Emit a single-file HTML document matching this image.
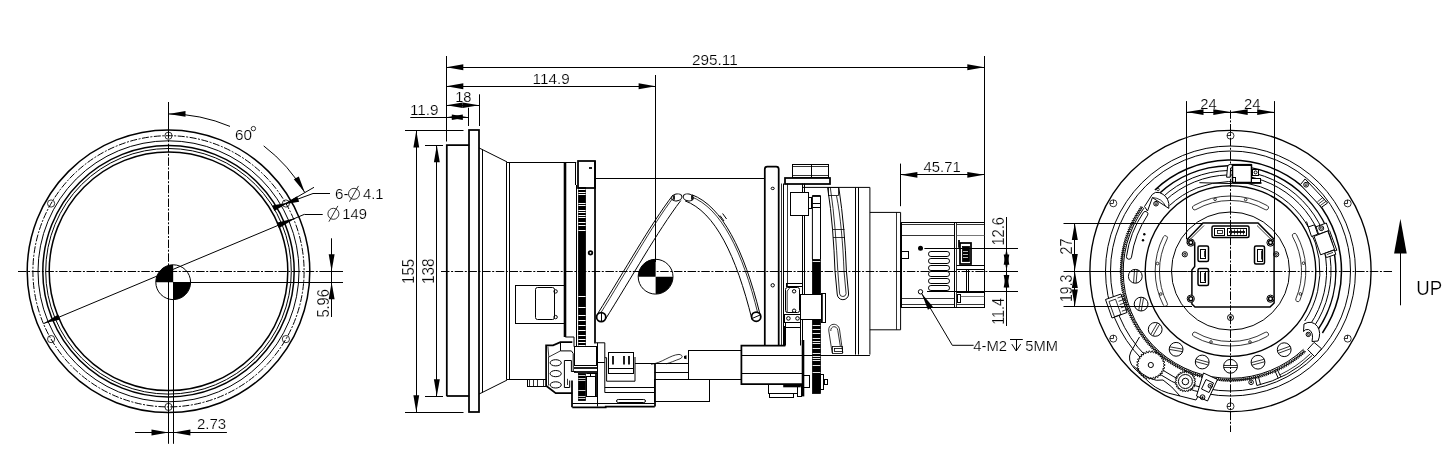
<!DOCTYPE html>
<html><head><meta charset="utf-8"><title>Lens drawing</title>
<style>
html,body{margin:0;padding:0;background:#fff}
svg{display:block;will-change:transform}
path,rect,circle,ellipse{fill:none;stroke:#000;stroke-width:1}
.n{stroke-width:1}
.th{stroke-width:.8}
.k{stroke-width:1.75}
.k2{stroke-width:2.6}
.tt{stroke-width:.95;stroke-linejoin:round}
.o{stroke-width:1.5}
.o2{stroke-width:1.35}
.cl{stroke-width:1;stroke-dasharray:8.5 1.6 2 1.6}
.cl2{stroke-width:1;stroke-dasharray:7 1.5 2 1.5}
.a{fill:#000;stroke:none}
.w{fill:#fff}
.b{fill:#000}
.g{stroke:#555;stroke-width:.8}
text{font-family:"Liberation Sans",sans-serif;fill:#000;stroke:#fff;stroke-width:.2px;paint-order:fill stroke}
</style></head>
<body>
<svg width="1454" height="459" viewBox="0 0 1454 459">
<g id="left-view">
<circle class="o" cx="168.5" cy="271.3" r="141.3"/>
<circle class="cl2" cx="168.5" cy="271.3" r="135.6"/>
<circle class="n" cx="168.5" cy="271.3" r="130.5"/>
<circle class="o" cx="168.5" cy="271.3" r="125.7"/>
<circle class="n" cx="168.5" cy="271.3" r="122.8"/>
<circle class="o" cx="168.5" cy="271.3" r="119.3"/>
<circle class="th" cx="168.5" cy="135.7" r="3.6"/>
<circle class="th" cx="285.9" cy="203.5" r="3.6"/>
<circle class="th" cx="285.9" cy="339.1" r="3.6"/>
<circle class="th" cx="168.5" cy="406.9" r="3.6"/>
<circle class="th" cx="51.1" cy="339.1" r="3.6"/>
<circle class="th" cx="51.1" cy="203.5" r="3.6"/>
<path class="cl" d="M18 271.5L343 271.5"/>
<path class="n" d="M322.7 271.5L343 271.5"/>
<path class="n" d="M168.5 102L168.5 130"/>
<path class="cl" d="M168.5 130L168.5 264"/>
<path class="n" d="M168.5 264L168.5 443.8"/>
<path class="n" d="M173.5 282L173.5 443.8"/>
<path class="n" d="M173 282.5L343 282.5"/>
<path class="n" d="M43.6 323.6L304.5 214.3"/>
<path class="n" d="M304.5 214.5L322.7 214.5"/>
<path class="a" d="M295.8 218L278.9 228.3L276.6 222.7Z"/>
<path class="a" d="M43.6 323.6L58.2 314.5L60.4 319.6Z"/>
<circle class="n" cx="173.2" cy="282.2" r="17.4"/>
<path class="a" d="M173.2 282.2L155.8 282.2A17.4 17.4 0 0 1 173.2 264.8Z"/>
<path class="a" d="M173.2 282.2L190.6 282.2A17.4 17.4 0 0 1 173.2 299.6Z"/>
<path class="n" d="M168.5 264L168.5 300"/>
<path class="n" d="M288 202.3L314 187.3"/>
<path class="n" d="M168.5 113.9A157.4 157.4 0 0 1 230 126.4"/>
<path class="n" d="M263.7 145.9A157.4 157.4 0 0 1 304.8 192.6"/>
<path class="a" d="M168.5 113.9L185.5 111L185.5 116.8Z"/>
<path class="a" d="M304.8 192.6L293.8 179.3L298.8 176.4Z"/>
<text class="t" x="234.9" y="140" font-size="15.4" textLength="17" lengthAdjust="spacingAndGlyphs">60</text>
<circle class="th" cx="253.4" cy="128.6" r="2.2"/>
<path class="n" d="M330 193.5L313 193.5"/>
<path class="n" d="M313 193.5L285.9 203.5"/>
<path class="a" d="M283.1 204.5L297.1 196.2L299.2 201.8Z"/>
<path class="a" d="M288.7 202.5L274.3 211L272.2 205.4Z"/>
<text class="t" x="335" y="198.7" font-size="15.4" textLength="13.5" lengthAdjust="spacingAndGlyphs">6-</text>
<circle class="th" cx="354" cy="193.8" r="5.5"/>
<path class="th" d="M349.5 201.7L358.5 185.9"/>
<text class="t" x="363" y="198.7" font-size="15.4" textLength="20.6" lengthAdjust="spacingAndGlyphs">4.1</text>
<circle class="th" cx="333.4" cy="213.8" r="5.5"/>
<path class="th" d="M328.9 221.7L337.9 205.9"/>
<text class="t" x="342.3" y="218.7" font-size="15.4" textLength="24.7" lengthAdjust="spacingAndGlyphs">149</text>
<path class="n" d="M331.5 238.3L331.5 317"/>
<path class="a" d="M331.6 271.3L328.7 254.3L334.6 254.3Z"/>
<path class="a" d="M331.6 282.2L334.6 299.2L328.7 299.2Z"/>
<text class="t" x="328.6" y="317.6" font-size="16.4" textLength="28.4" lengthAdjust="spacingAndGlyphs" transform="rotate(-90 328.6 317.6)">5.96</text>
<path class="n" d="M135 432.5L226.9 432.5"/>
<path class="a" d="M168.5 432.5L151.5 435.4L151.5 429.6Z"/>
<path class="a" d="M173.4 432.5L190.4 429.6L190.4 435.4Z"/>
<text class="t" x="197" y="429" font-size="15.4" textLength="29.2" lengthAdjust="spacingAndGlyphs">2.73</text>
</g>
<g id="side-view">
<path class="n" d="M446.5 56L446.5 141.5"/>
<path class="n" d="M984.5 56L984.5 222"/>
<path class="n" d="M446.3 67.5L984.3 67.5"/>
<path class="a" d="M446.3 67.3L463.3 64.3L463.3 70.2Z"/>
<path class="a" d="M984.3 67.3L967.3 70.2L967.3 64.3Z"/>
<text class="t" x="692" y="64.9" font-size="15.4" textLength="45.7" lengthAdjust="spacingAndGlyphs">295.11</text>
<path class="n" d="M655.5 75L655.5 262"/>
<path class="n" d="M446.3 86.5L655.6 86.5"/>
<path class="a" d="M446.3 86.3L463.3 83.3L463.3 89.2Z"/>
<path class="a" d="M655.6 86.3L638.6 89.2L638.6 83.3Z"/>
<text class="t" x="532.6" y="83.6" font-size="15.4" textLength="37.1" lengthAdjust="spacingAndGlyphs">114.9</text>
<path class="n" d="M479.5 94.3L479.5 126"/>
<path class="n" d="M446.3 105.5L479.1 105.5"/>
<path class="a" d="M446.3 105.2L462.7 102.4L462.7 108Z"/>
<path class="a" d="M479.1 105.2L462.7 108L462.7 102.4Z"/>
<text class="t" x="455.2" y="102" font-size="15.4" textLength="16.3" lengthAdjust="spacingAndGlyphs">18</text>
<path class="n" d="M468.5 107.7L468.5 126"/>
<path class="n" d="M410.3 117.5L468.3 117.5"/>
<path class="a" d="M446.3 117.3L462.8 114.5L462.8 120.1Z"/>
<path class="a" d="M468.3 117.3L451.8 120.1L451.8 114.5Z"/>
<text class="t" x="410" y="114.6" font-size="15.4" textLength="28.6" lengthAdjust="spacingAndGlyphs">11.9</text>
<path class="n" d="M405 130.5L463.5 130.5"/>
<path class="n" d="M405 412.5L463.5 412.5"/>
<path class="n" d="M416.5 130.5L416.5 412.2"/>
<path class="a" d="M416.3 130.5L419.2 147.5L413.4 147.5Z"/>
<path class="a" d="M416.3 412.2L413.4 395.2L419.2 395.2Z"/>
<path class="n" d="M425 145.5L443 145.5"/>
<path class="n" d="M425 396.5L443 396.5"/>
<path class="n" d="M436.5 145.2L436.5 396.3"/>
<path class="a" d="M436.8 145.2L439.8 162.2L433.9 162.2Z"/>
<path class="a" d="M436.8 396.3L433.9 379.3L439.8 379.3Z"/>
<text class="t" x="413.9" y="283.9" font-size="16.4" textLength="25" lengthAdjust="spacingAndGlyphs" transform="rotate(-90 413.9 283.9)">155</text>
<text class="t" x="434" y="284" font-size="16.4" textLength="25.6" lengthAdjust="spacingAndGlyphs" transform="rotate(-90 434 284)">138</text>
<path class="cl" d="M441 271.5L1018 271.5"/>
<path class="n" d="M996 271.5L1018 271.5"/>
<path class="k" d="M446.8 396.3L446.8 145.2L469.3 145.2"/>
<path class="k" d="M446.8 396L469.3 396"/>
<rect class="k" x="469" y="130" width="10" height="282"/>
<path class="n" d="M478.9 147.9L482 149.4L507 161.9"/>
<path class="n" d="M478.9 394.1L482 392.6L507 380.1"/>
<path class="n" d="M482.5 149.4L482.5 392.6"/>
<path class="n" d="M506.5 162.2L506.5 379.8"/>
<path class="n" d="M509.5 162.2L509.5 379.8"/>
<path class="n" d="M507 162.5L576.2 162.5"/>
<path class="n" d="M507 379.5L527.5 379.5"/>
<path class="k2" d="M565 162.2L565 337"/>
<path class="n" d="M575.5 162.2L575.5 185"/>
<path class="n" d="M576.5 185L576.5 346"/>
<rect class="k" x="578" y="161" width="17" height="27"/>
<path class="k" d="M589 168L592 168"/>
<path class="k" d="M595 161.1L595 343.4"/>
<rect class="b th" x="578.5" y="187.5" width="7" height="159"/>
<path d="M578.4 189.5L585.6 189.5" style="stroke:#fff;stroke-width:1.0"/>
<path d="M578.4 192.5L585.6 192.5" style="stroke:#fff;stroke-width:1.0"/>
<path d="M578.4 194.5L585.6 194.5" style="stroke:#fff;stroke-width:1.0"/>
<path d="M578.4 203.5L585.6 203.5" style="stroke:#fff;stroke-width:1.0"/>
<path d="M578.4 205.5L585.6 205.5" style="stroke:#fff;stroke-width:1.0"/>
<path d="M578.4 210.5L585.6 210.5" style="stroke:#fff;stroke-width:1.0"/>
<path d="M578.4 212.5L585.6 212.5" style="stroke:#fff;stroke-width:1.0"/>
<path d="M578.4 215.5L585.6 215.5" style="stroke:#fff;stroke-width:1.0"/>
<path d="M578.4 217.5L585.6 217.5" style="stroke:#fff;stroke-width:1.0"/>
<path d="M578.4 222.5L585.6 222.5" style="stroke:#fff;stroke-width:1.0"/>
<path d="M578.4 225.5L585.6 225.5" style="stroke:#fff;stroke-width:1.0"/>
<path d="M578.4 230.5L585.6 230.5" style="stroke:#fff;stroke-width:1.0"/>
<path d="M578.4 296.5L585.6 296.5" style="stroke:#fff;stroke-width:1.0"/>
<path d="M578.4 307.5L585.6 307.5" style="stroke:#fff;stroke-width:1.0"/>
<path d="M578.4 315.5L585.6 315.5" style="stroke:#fff;stroke-width:1.0"/>
<path d="M578.4 320.5L585.6 320.5" style="stroke:#fff;stroke-width:1.0"/>
<path d="M578.4 325.5L585.6 325.5" style="stroke:#fff;stroke-width:1.0"/>
<path d="M578.4 330.5L585.6 330.5" style="stroke:#fff;stroke-width:1.0"/>
<path d="M578.4 335.5L585.6 335.5" style="stroke:#fff;stroke-width:1.0"/>
<path d="M578.4 339.5L585.6 339.5" style="stroke:#fff;stroke-width:1.0"/>
<path d="M578.4 342.5L585.6 342.5" style="stroke:#fff;stroke-width:1.0"/>
<path d="M578.4 345.5L585.6 345.5" style="stroke:#fff;stroke-width:1.0"/>
<circle class="k" cx="590.5" cy="252.8" r="1.8"/>
<rect class="n" x="515.5" y="285.5" width="49" height="38"/>
<rect class="n" x="535.5" y="287.5" width="19" height="32" rx="2"/>
<circle class="n" cx="555.6" cy="291.4" r="1.7"/>
<circle class="n" cx="555.6" cy="317.1" r="1.7"/>
<path class="n" d="M595.4 178.5L764.8 178.5"/>
<path class="n" d="M635 363.5L688.5 363.5"/>
<path class="n" d="M597.8 313.5C625 270 650 225 673 195"/>
<path class="th" d="M599.6 314.8C627 271 651 227 674 196.6"/>
<path class="n" d="M604.6 320.5C632 277 657 232 680.8 200.5"/>
<ellipse class="n w" cx="676.8" cy="197.4" rx="5.2" ry="3.4" transform="rotate(-12 676.8 197.4)"/>
<path class="k" d="M674 195.2L674 199.8"/>
<circle class="k w" cx="601.2" cy="317.1" r="4.6"/>
<path class="n" d="M601.5 312.8L601.5 321.4"/>
<path class="n" d="M692 194.8C722 206 744 250 759.8 313.5"/>
<path class="th" d="M691 196.6C721 208 742.5 251 758 314"/>
<path class="n" d="M685 200.8C715 212 736 255 752 319.5"/>
<ellipse class="n w" cx="688.3" cy="197.4" rx="5.2" ry="3.4" transform="rotate(12 688.3 197.4)"/>
<path class="k" d="M692 195.2L692 199.8"/>
<path class="n" d="M720 215.5L724 221"/>
<path class="n" d="M722.6 213.5L726.6 219"/>
<circle class="k w" cx="756.2" cy="316.7" r="4.6"/>
<path class="n" d="M752.3 318.4L760.1 315"/>
<circle class="n" cx="655.6" cy="276.7" r="17.4"/>
<path class="a" d="M655.6 276.7L638.2 276.7A17.4 17.4 0 0 1 655.6 259.3Z"/>
<path class="a" d="M655.6 276.7L673 276.7A17.4 17.4 0 0 1 655.6 294.1Z"/>
<rect class="n" x="527.5" y="379.5" width="19" height="7"/>
<path class="th" d="M529.5 379.7L529.5 386.1"/>
<path class="th" d="M533.5 379.7L533.5 386.1"/>
<path class="th" d="M537.5 379.7L537.5 386.1"/>
<path class="th" d="M543.5 379.7L543.5 386.1"/>
<path class="k" d="M572.3 342.2L560.4 342.2L553.1 345.3L546.1 345.3L546.1 385.8L555.7 393.1L572.3 393.1"/>
<path class="th" d="M547.9 346.5L548.8 357L560.4 350.9"/>
<path class="th" d="M548.5 357L548.5 385.5"/>
<path class="n" d="M560.5 342.2L560.5 350.9"/>
<path class="n" d="M560.4 350.9L571.4 350.9L573.2 353.5L573.2 371.8"/>
<ellipse class="n" cx="555.7" cy="362.8" rx="5.6" ry="3.1"/>
<ellipse class="n" cx="555.7" cy="373.6" rx="5.6" ry="3.1"/>
<ellipse class="n" cx="555.7" cy="384.9" rx="5.6" ry="3.1"/>
<path class="n" d="M571.4 371.8L571.4 360.5L564.4 360.5L564.4 387.5L569.7 387.5L569.7 380.5"/>
<path class="n" d="M571.4 371.5L575.8 371.5"/>
<path class="th" d="M567.5 378.8L567.5 385"/>
<path class="n" d="M565.3 337L574 337L574 346.6"/>
<path class="k" d="M572 380.5L572 407.3"/>
<rect class="n" x="574.5" y="346.5" width="22" height="19"/>
<path class="k" d="M574 368L597 368"/>
<path class="k" d="M574 372L597 372"/>
<rect class="b th" x="578.5" y="373.5" width="7" height="27"/>
<path d="M578.4 375.5L585.4 375.5" style="stroke:#fff;stroke-width:0.8"/>
<path d="M578.4 378.5L585.4 378.5" style="stroke:#fff;stroke-width:0.8"/>
<path d="M578.4 380.5L585.4 380.5" style="stroke:#fff;stroke-width:0.8"/>
<path d="M578.4 390.5L585.4 390.5" style="stroke:#fff;stroke-width:0.8"/>
<path d="M578.4 396.5L585.4 396.5" style="stroke:#fff;stroke-width:0.8"/>
<path d="M578.4 398.5L585.4 398.5" style="stroke:#fff;stroke-width:0.8"/>
<rect class="n" x="586.5" y="376.5" width="9" height="20"/>
<path class="n" d="M586.2 373.5L597 373.5"/>
<path class="n" d="M590.5 373.6L590.5 376.7"/>
<path class="k" d="M596 373L596 397"/>
<path class="k" d="M572.3 407.3L605.7 407.3L605.7 406.5L654.8 406.5"/>
<path class="n" d="M572.3 403.5L654.8 403.5"/>
<path class="n" d="M597.5 342.8L597.5 406.5"/>
<path class="n" d="M586 396.5L597 396.5"/>
<rect class="n" x="616.5" y="399.5" width="29" height="3" rx="1.8"/>
<path class="n" d="M596 342.8L604.8 342.8L604.8 392.5"/>
<path class="n" d="M597 362.5L604.8 362.5"/>
<path class="n" d="M604.8 387.5L654.8 387.5"/>
<path class="n" d="M604.8 392.5L654.8 392.5"/>
<path class="n" d="M604.8 357.7L606.6 357.7L606.6 381.2L635 381.2L635 357"/>
<path class="k" d="M655 363.8L655 406.5"/>
<rect class="n" x="608.5" y="352.5" width="25" height="21"/>
<path class="n" d="M608.6 368.5L633.6 368.5"/>
<path class="k" d="M613 356L613 364.6"/>
<path class="k" d="M624 356L624 364.6"/>
<path class="k" d="M629 356L629 364.6"/>
<path class="n" d="M654.6 372.5L688.5 372.5"/>
<rect class="n" x="654.5" y="379.5" width="55" height="22"/>
<path class="th" d="M651 364.3C662 363 670 355 679 354.4C683 355 683 357.5 680 358.8C675 360.5 670 363 666 363.8"/>
<path class="a" d="M684 356L686.5 355.2L686.5 359.2L684 358.4Z"/>
<rect class="n" x="688.5" y="350.5" width="53" height="29"/>
<path class="k" d="M784.5 326L784.5 345.5L741.4 345.5L741.4 384.2L802.4 384.2"/>
<path class="k2" d="M803 340L803 396.4"/>
<path class="n" d="M741.4 355.5L802.4 355.5"/>
<path class="n" d="M741.4 373.5L802.4 373.5"/>
<rect class="n" x="768.5" y="384.5" width="29" height="9"/>
<rect class="n" x="769.5" y="393.5" width="24" height="4"/>
<path class="k2" d="M783.2 386L800.8 386"/>
<rect class="n" x="797.5" y="385.5" width="4" height="11"/>
<path class="k" d="M764.8 345.5L764.8 169A2.5 2.5 0 0 1 767.3 166.5L776.2 166.5A2.5 2.5 0 0 1 778.7 169L778.7 345.5"/>
<ellipse class="n" cx="772.7" cy="188.4" rx="1.6" ry="1.2"/>
<circle class="n" cx="772.7" cy="285.3" r="1.7"/>
<path class="th" d="M781.5 183.5L781.5 345.5"/>
<path class="n" d="M783.5 183.5L783.5 345.5"/>
<path class="th" d="M787.5 183.5L787.5 286"/>
<rect class="n" x="792.5" y="164.5" width="19" height="13"/>
<rect class="n" x="811.5" y="164.5" width="17" height="13"/>
<path class="th" d="M792.3 166.5L828.9 166.5"/>
<path class="th" d="M792.3 175.5L828.9 175.5"/>
<rect class="k" x="785" y="178" width="45" height="6"/>
<path class="n" d="M802.2 187.4L869.9 187.4L869.9 354.6"/>
<path class="n" d="M802.5 183.5L802.5 384"/>
<path class="n" d="M804.5 183.5L804.5 294"/>
<rect class="n w" x="790.5" y="192.5" width="18" height="23"/>
<rect class="n" x="808.5" y="197.5" width="3" height="11"/>
<path class="n" d="M812.4 259L812.4 195.8L820.5 195.8L820.5 259"/>
<path class="k" d="M812.4 196L820.5 196"/>
<path class="n" d="M812.4 203.5L820.5 203.5"/>
<path class="n" d="M812.4 207.5L820.5 207.5"/>
<rect class="b th" x="812.5" y="259.5" width="8" height="134"/>
<path d="M812.6 261.5L820.3 261.5" style="stroke:#fff;stroke-width:0.9"/>
<path d="M812.6 325.5L820.3 325.5" style="stroke:#fff;stroke-width:0.9"/>
<path d="M812.6 329.5L820.3 329.5" style="stroke:#fff;stroke-width:0.9"/>
<path d="M812.6 333.5L820.3 333.5" style="stroke:#fff;stroke-width:0.9"/>
<path d="M812.6 338.5L820.3 338.5" style="stroke:#fff;stroke-width:0.9"/>
<path d="M812.6 341.5L820.3 341.5" style="stroke:#fff;stroke-width:0.9"/>
<path d="M812.6 343.5L820.3 343.5" style="stroke:#fff;stroke-width:0.9"/>
<path d="M812.6 348.5L820.3 348.5" style="stroke:#fff;stroke-width:0.9"/>
<path d="M812.6 353.5L820.3 353.5" style="stroke:#fff;stroke-width:0.9"/>
<path d="M812.6 356.5L820.3 356.5" style="stroke:#fff;stroke-width:0.9"/>
<path d="M812.6 358.5L820.3 358.5" style="stroke:#fff;stroke-width:0.9"/>
<path d="M812.6 360.5L820.3 360.5" style="stroke:#fff;stroke-width:0.9"/>
<path d="M812.6 365.5L820.3 365.5" style="stroke:#fff;stroke-width:0.9"/>
<path d="M812.6 372.5L820.3 372.5" style="stroke:#fff;stroke-width:0.9"/>
<path class="n" d="M827.6 187.4C832 215 834 245 835 271L837.2 294A5.7 5.7 0 0 0 848.6 294L846.4 271C845.5 245 843 215 838.8 187.4"/>
<path class="th" d="M830.3 187.4C834.5 215 836.5 245 837.8 271L839.6 293.8A3.3 3.3 0 0 0 846.1 293.8L844 271C843 245 840.5 215 836.5 195.8"/>
<rect class="th" x="828.5" y="187.5" width="10" height="8"/>
<path class="th" d="M832.5 229.5L844.5 229.5"/>
<path class="th" d="M833 237.5L845 237.5"/>
<path class="th" d="M832.2 353L828.8 331C827.6 322.5 838.8 322 839.6 330L842.8 353"/>
<path class="th" d="M830.8 331C830.4 325.5 837.3 325.2 837.8 330.5L840.3 346"/>
<rect class="th" x="832.5" y="346.5" width="10" height="7"/>
<rect class="th" x="834.5" y="348.5" width="8" height="3"/>
<path class="n" d="M855.5 187.4L855.5 354.6"/>
<path class="n" d="M858.5 187.4L858.5 354.6"/>
<path class="n" d="M802.4 355.5L869.9 355.5"/>
<rect class="n w" x="800.5" y="294.5" width="21" height="25"/>
<rect class="n w" x="821.5" y="293.5" width="4" height="29"/>
<path class="th" d="M822.5 293.2L822.5 322.6"/>
<rect class="n" x="785.5" y="287.5" width="14" height="25" rx="2"/>
<path class="th" d="M787.2 312.7L787.2 291L789.5 288.2"/>
<rect class="n" x="786.5" y="283.5" width="16" height="3"/>
<circle class="n" cx="794.1" cy="291.3" r="1.7"/>
<circle class="n" cx="794.1" cy="310.7" r="1.7"/>
<rect class="n" x="784.5" y="314.5" width="16" height="8"/>
<path class="n" d="M785.5 322.6L785.5 345.5"/>
<path class="n" d="M800.5 322.6L800.5 345.5"/>
<path class="n" d="M785.3 327.5L800.6 327.5"/>
<circle class="n" cx="788.4" cy="318.4" r="1.8"/>
<circle class="n" cx="797.5" cy="318.4" r="1.8"/>
<rect class="n" x="803.5" y="375.5" width="6" height="12"/>
<rect class="n" x="824.5" y="379.5" width="3" height="5"/>
<rect class="n" x="820.5" y="374.5" width="3" height="15"/>
<path class="n" d="M869.9 212.4L900.6 212.4L900.6 329.8L869.9 329.8"/>
<path class="th" d="M896.5 212.4L896.5 329.8"/>
<path class="k" d="M901 222.7L901 307.2"/>
<rect class="n" x="901.5" y="222.5" width="83" height="85"/>
<path class="th" d="M901.4 224.5L954 224.5"/>
<path class="th" d="M901.4 235.5L954 235.5"/>
<path class="th" d="M901.4 298.5L954 298.5"/>
<path class="th" d="M901.4 304.5L954 304.5"/>
<path class="n" d="M954.5 222.7L954.5 307.2"/>
<path class="th" d="M956.5 222.7L956.5 307.2"/>
<path class="th" d="M956.6 224.5L984.6 224.5"/>
<path class="th" d="M956.6 304.5L984.6 304.5"/>
<rect class="n" x="901.5" y="251.5" width="7" height="7"/>
<rect class="n" x="928.5" y="251.5" width="21" height="5" rx="2.4"/>
<rect class="n" x="928.5" y="258.5" width="21" height="5" rx="2.4"/>
<rect class="n" x="928.5" y="265.5" width="21" height="5" rx="2.4"/>
<rect class="n" x="928.5" y="271.5" width="21" height="5" rx="2.4"/>
<rect class="n" x="928.5" y="278.5" width="21" height="5" rx="2.4"/>
<rect class="n" x="928.5" y="285.5" width="21" height="5" rx="2.4"/>
<circle class="a" cx="920.5" cy="248.2" r="2.5"/>
<circle class="n" cx="920.5" cy="291.8" r="2.2"/>
<path class="g" d="M956.6 235.5L984.6 235.5"/>
<rect class="k" x="960" y="243" width="11" height="21"/>
<rect class="b th" x="962.5" y="246.5" width="7" height="15"/>
<path d="M963 248.5L968 248.5" style="stroke:#fff;stroke-width:0.7"/>
<path d="M963 251.5L968 251.5" style="stroke:#fff;stroke-width:0.7"/>
<path d="M963 254.5L968 254.5" style="stroke:#fff;stroke-width:0.7"/>
<path d="M963 257.5L968 257.5" style="stroke:#fff;stroke-width:0.7"/>
<path class="k" d="M959 240L959 247.7"/>
<path class="n" d="M956.6 265.5L984.6 265.5"/>
<path class="n" d="M956.6 269.5L984.6 269.5"/>
<path class="n" d="M966.5 269.3L966.5 292.8"/>
<path class="n" d="M968.5 269.3L968.5 292.8"/>
<path class="n" d="M956.6 292.5L984.6 292.5"/>
<rect class="n" x="957.5" y="294.5" width="3" height="8"/>
<path class="g" d="M960.5 296.5L984.6 296.5"/>
<path class="n" d="M900.5 163.6L900.5 206.2"/>
<path class="n" d="M900.4 174.5L984.3 174.5"/>
<path class="a" d="M900.4 174.8L917.4 171.9L917.4 177.8Z"/>
<path class="a" d="M984.3 174.8L967.3 177.8L967.3 171.9Z"/>
<text class="t" x="923.6" y="171.9" font-size="15.4" textLength="37.1" lengthAdjust="spacingAndGlyphs">45.71</text>
<path class="n" d="M924.4 248.5L1018 248.5"/>
<path class="n" d="M927 291.5L1018 291.5"/>
<path class="n" d="M1006.5 217L1006.5 326"/>
<path class="a" d="M1006.5 248.2L1009.3 264.7L1003.7 264.7Z"/>
<path class="a" d="M1006.5 271L1003.7 254.5L1009.3 254.5Z"/>
<path class="a" d="M1006.5 271L1009.3 287.5L1003.7 287.5Z"/>
<path class="a" d="M1006.5 291.4L1003.7 274.9L1009.3 274.9Z"/>
<text class="t" x="1003.8" y="245.6" font-size="16.4" textLength="28.4" lengthAdjust="spacingAndGlyphs" transform="rotate(-90 1003.8 245.6)">12.6</text>
<text class="t" x="1003.8" y="324.8" font-size="16.4" textLength="26.8" lengthAdjust="spacingAndGlyphs" transform="rotate(-90 1003.8 324.8)">11.4</text>
<path class="n" d="M921.7 293.6L952.3 345.3L973.6 345.3"/>
<path class="a" d="M921.7 293.6L932.9 306.7L927.9 309.7Z"/>
<text class="t" x="973.3" y="350.6" font-size="15.4" textLength="33.8" lengthAdjust="spacingAndGlyphs">4-M2</text>
<path class="n" d="M1010 339.5L1022.8 339.5"/>
<path class="n" d="M1016.5 339.1L1016.5 350.6"/>
<path class="n" d="M1011.8 344.1L1016.2 351L1020.7 344.1"/>
<text class="t" x="1025.3" y="350.6" font-size="15.4" textLength="32.7" lengthAdjust="spacingAndGlyphs">5MM</text>
</g>
<g id="rear-view">
<circle class="o2" cx="1230.5" cy="271" r="140.6"/>
<circle class="n" cx="1230.5" cy="271" r="125"/>
<circle class="n" cx="1230.5" cy="271" r="120"/>
<circle class="o2" cx="1230.5" cy="271" r="85.3"/>
<circle class="n" cx="1230.5" cy="271" r="59"/>
<path class="n" d="M1169.5 205.5A89.5 89.5 0 0 1 1304.7 321"/>
<path class="n" d="M1165 200.8A96 96 0 0 1 1310.1 324.7"/>
<path class="n" d="M1162.1 197.6A100.3 100.3 0 0 1 1313.7 327.1"/>
<path class="o" d="M1158.7 194A105.3 105.3 0 0 1 1317.8 329.9"/>
<path class="o" d="M1154.9 190A110.8 110.8 0 0 1 1322.4 333"/>
<path class="n" d="M1303.5 349.3A107 107 0 0 1 1143.9 208.1"/>
<path class="tt" d="M1305.9 351.9L1303.4 350.7L1304.4 353.2L1302 352L1302.9 354.6L1300.5 353.2L1301.4 355.9L1299 354.5L1299.9 357.1L1297.5 355.7L1298.3 358.4L1295.9 356.9L1296.7 359.6L1294.3 358.1L1295.1 360.8L1292.8 359.3L1293.4 362L1291.1 360.4L1291.8 363.1L1289.5 361.5L1290.1 364.2L1287.9 362.5L1288.4 365.2L1286.2 363.5L1286.7 366.3L1284.5 364.5L1284.9 367.3L1282.8 365.5L1283.2 368.3L1281.1 366.4L1281.4 369.2L1279.3 367.3L1279.6 370.1L1277.6 368.2L1277.8 371L1275.8 369L1276 371.8L1274 369.8L1274.1 372.6L1272.2 370.6L1272.3 373.4L1270.4 371.4L1270.4 374.1L1268.6 372.1L1268.5 374.9L1266.7 372.7L1266.7 375.5L1264.9 373.4L1264.8 376.2L1263 374L1262.8 376.8L1261.1 374.6L1260.9 377.3L1259.3 375.1L1259 377.9L1257.4 375.6L1257 378.4L1255.5 376.1L1255.1 378.8L1253.5 376.5L1253.1 379.3L1251.6 376.9L1251.1 379.7L1249.7 377.3L1249.2 380L1247.8 377.6L1247.2 380.3L1245.8 377.9L1245.2 380.6L1243.9 378.2L1243.2 380.9L1241.9 378.4L1241.2 381.1L1240 378.6L1239.2 381.3L1238 378.7L1237.2 381.4L1236.1 378.9L1235.2 381.5L1234.1 378.9L1233.2 381.6L1232.2 379L1231.2 381.6L1230.2 379L1229.2 381.6L1228.2 379L1227.2 381.6L1226.3 378.9L1225.2 381.5L1224.3 378.8L1223.2 381.4L1222.4 378.7L1221.2 381.2L1220.4 378.5L1219.2 381L1218.5 378.3L1217.2 380.8L1216.5 378.1L1215.2 380.5L1214.6 377.8L1213.2 380.2L1212.6 377.5L1211.2 379.9L1210.7 377.2L1209.2 379.5L1208.8 376.8L1207.3 379.1L1206.9 376.4L1205.3 378.7L1205 375.9L1203.4 378.2L1203.1 375.5L1201.4 377.7L1201.2 374.9L1199.5 377.2L1199.3 374.4L1197.6 376.6L1197.4 373.8L1195.7 376L1195.6 373.2L1193.8 375.3L1193.7 372.5L1191.9 374.6L1191.9 371.9L1190 373.9L1190 371.1L1188.1 373.2L1188.2 370.4L1186.3 372.4L1186.4 369.6L1184.5 371.6L1184.7 368.8L1182.6 370.7L1182.9 367.9L1180.8 369.8L1181.1 367.1L1179.1 368.9L1179.4 366.1L1177.3 368L1177.7 365.2L1175.5 367L1176 364.2L1173.8 366L1174.3 363.2L1172.1 364.9L1172.6 362.2L1170.4 363.8L1171 361.1L1168.7 362.7L1169.4 360L1167.1 361.6L1167.8 358.9L1165.4 360.4L1166.2 357.7L1163.8 359.2L1164.6 356.6L1162.2 358L1163.1 355.4L1160.7 356.8L1161.5 354.1L1159.1 355.5L1160 352.9L1157.6 354.2L1158.6 351.6L1156.1 352.8L1157.1 350.2L1154.6 351.5L1155.7 348.9L1153.2 350.1L1154.3 347.5L1151.7 348.7L1152.9 346.1L1150.4 347.2L1151.6 344.7L1149 345.7L1150.2 343.3L1147.6 344.3L1148.9 341.8L1146.3 342.7L1147.7 340.3L1145 341.2L1146.4 338.8L1143.8 339.6L1145.2 337.3L1142.5 338.1L1144 335.7L1141.3 336.4L1142.9 334.1L1140.2 334.8L1141.7 332.5L1139 333.2L1140.6 330.9L1137.9 331.5L1139.6 329.3L1136.8 329.8L1138.5 327.6L1135.8 328.1L1137.5 325.9L1134.8 326.4L1136.5 324.2L1133.8 324.6L1135.6 322.5L1132.8 322.9L1134.7 320.8L1131.9 321.1L1133.8 319L1131 319.3L1132.9 317.3L1130.1 317.5L1132.1 315.5L1129.3 315.6L1131.3 313.7L1128.5 313.8L1130.5 311.9L1127.8 311.9L1129.8 310.1L1127 310.1L1129.1 308.2L1126.3 308.2L1128.5 306.4L1125.7 306.3L1127.8 304.5L1125.1 304.4L1127.2 302.6L1124.5 302.4L1126.7 300.8L1123.9 300.5L1126.2 298.9L1123.4 298.6L1125.7 297L1122.9 296.6L1125.2 295.1L1122.5 294.7L1124.8 293.2L1122.1 292.7L1124.4 291.2L1121.7 290.7L1124.1 289.3L1121.3 288.8L1123.7 287.4L1121 286.8L1123.5 285.4L1120.8 284.8L1123.2 283.5L1120.5 282.8L1123 281.5L1120.3 280.8L1122.8 279.6L1120.2 278.8L1122.7 277.6L1120.1 276.8L1122.6 275.7L1120 274.8L1122.5 273.7L1119.9 272.8L1122.5 271.8L1119.9 270.8L1122.5 269.8L1119.9 268.8L1122.5 267.8L1120 266.8L1122.6 265.9L1120.1 264.7L1122.7 263.9L1120.2 262.7L1122.9 262L1120.4 260.7L1123.1 260L1120.6 258.7L1123.3 258.1L1120.8 256.8L1123.5 256.1L1121.1 254.8L1123.8 254.2L1121.4 252.8L1124.1 252.2L1121.8 250.8L1124.5 250.3L1122.1 248.8L1124.9 248.4L1122.6 246.9L1125.3 246.5L1123 244.9L1125.8 244.6L1123.5 243L1126.3 242.7L1124 241L1126.8 240.8L1124.6 239.1L1127.4 238.9L1125.2 237.2L1128 237.1L1125.8 235.3L1128.6 235.2L1126.5 233.4L1129.3 233.4L1127.2 231.5L1130 231.5L1127.9 229.6L1130.7 229.7L1128.7 227.8L1131.5 227.9L1129.5 225.9L1132.3 226.1L1130.3 224.1L1133.1 224.3L1131.2 222.3L1134 222.6L1132.1 220.5L1134.9 220.8L1133 218.7L1135.8 219.1L1134 217L1136.7 217.4L1135 215.2L1137.7 215.7L1136 213.5L1138.8 214L1137.1 211.8L1139.8 212.4L1138.2 210.1L1140.9 210.7L1139.3 208.5L1142 209.1L1140.4 206.8L1143.1 207.5"/>
<circle class="th" cx="1230.5" cy="135.7" r="3.5"/>
<path class="th" d="M1230.5 135.7L1230.5 132.2"/>
<path class="th" d="M1227 135.5L1230.5 135.5"/>
<circle class="th" cx="1347.7" cy="203.4" r="3.5"/>
<path class="th" d="M1347.5 203.4L1347.5 199.9"/>
<path class="th" d="M1344.2 203.5L1347.7 203.5"/>
<circle class="th" cx="1347.7" cy="338.6" r="3.5"/>
<path class="th" d="M1347.5 338.6L1347.5 335.1"/>
<path class="th" d="M1344.2 338.5L1347.7 338.5"/>
<circle class="th" cx="1230.5" cy="406.3" r="3.5"/>
<path class="th" d="M1230.5 406.3L1230.5 402.8"/>
<path class="th" d="M1227 406.5L1230.5 406.5"/>
<circle class="th" cx="1113.3" cy="338.6" r="3.5"/>
<path class="th" d="M1113.5 338.6L1113.5 335.1"/>
<path class="th" d="M1109.8 338.5L1113.3 338.5"/>
<circle class="th" cx="1113.3" cy="203.3" r="3.5"/>
<path class="th" d="M1113.5 203.3L1113.5 199.8"/>
<path class="th" d="M1109.8 203.5L1113.3 203.5"/>
<path class="th" d="M1193.6 205.7A75 75 0 0 1 1267.4 205.7A2.2 2.2 0 0 1 1265.2 209.6A70.5 70.5 0 0 0 1195.8 209.6A2.2 2.2 0 0 1 1193.6 205.7Z"/>
<path class="th" d="M1267.4 336.3A75 75 0 0 1 1193.6 336.3A2.2 2.2 0 0 1 1195.8 332.4A70.5 70.5 0 0 0 1265.2 332.4A2.2 2.2 0 0 1 1267.4 336.3Z"/>
<path class="th" d="M1163.4 305.2A75.3 75.3 0 0 1 1163.4 236.8A2.1 2.1 0 0 1 1167.2 238.8A71 71 0 0 0 1167.2 303.2A2.1 2.1 0 0 1 1163.4 305.2Z"/>
<path class="th" d="M1296.4 234.5A75.3 75.3 0 0 1 1299.8 300.4A2.1 2.1 0 0 1 1295.9 298.7A71 71 0 0 0 1292.6 236.6A2.1 2.1 0 0 1 1296.4 234.5Z"/>
<path class="n" d="M1126.5 256.4A105 105 0 0 1 1143.5 212.3A2.5 2.5 0 0 1 1147.6 215.1A100 100 0 0 0 1131.5 257.1A2.5 2.5 0 0 1 1126.5 256.4Z"/>
<circle class="n w" cx="1135.3" cy="276.3" r="6.9"/>
<path class="th" d="M1137.2 269.7L1136.1 283.2"/>
<path class="th" d="M1134.6 269.5L1133.5 283"/>
<circle class="n w" cx="1141.1" cy="304.1" r="6.9"/>
<path class="th" d="M1143.6 297.6L1141.2 311"/>
<path class="th" d="M1141 297.2L1138.7 310.5"/>
<circle class="n w" cx="1155.2" cy="329.4" r="6.9"/>
<path class="th" d="M1159.7 324.2L1152.9 335.9"/>
<path class="th" d="M1157.5 322.9L1150.7 334.6"/>
<circle class="n w" cx="1176.1" cy="349.3" r="6.9"/>
<path class="th" d="M1169.7 346.8L1183 349.2"/>
<path class="th" d="M1169.2 349.4L1182.6 351.7"/>
<circle class="n w" cx="1202.2" cy="362" r="6.9"/>
<path class="th" d="M1196 359L1209 362.5"/>
<path class="th" d="M1195.3 361.5L1208.4 365"/>
<circle class="n w" cx="1230.5" cy="366.3" r="6.9"/>
<path class="th" d="M1223.7 365.5L1237.3 365.5"/>
<path class="th" d="M1223.7 367.5L1237.3 367.5"/>
<circle class="n w" cx="1258" cy="362.2" r="6.9"/>
<path class="th" d="M1251.2 362.7L1264.3 359.2"/>
<path class="th" d="M1251.8 365.2L1264.9 361.7"/>
<circle class="n w" cx="1284.2" cy="349.7" r="6.9"/>
<path class="th" d="M1277.4 350.8L1290.1 346.2"/>
<path class="th" d="M1278.3 353.3L1291 348.6"/>
<path class="cl" d="M1230.5 110.3L1230.5 432"/>
<path class="cl" d="M1392 271.5L1090 271.5"/>
<path class="o w" d="M1203 223L1258 223L1274.1 239.2L1274.1 303L1270 307.1L1195 307.1L1191.9 304L1191.9 270L1194.7 266.6L1194.7 243L1187.4 243L1187.4 239.2Z"/>
<path class="cl" d="M1230.5 223L1230.5 307"/>
<path class="cl" d="M1187.4 271.5L1274 271.5"/>
<path class="th" d="M1189 240.5L1204 225.5"/>
<path class="th" d="M1257 225.5L1272.5 240.8"/>
<circle class="n w" cx="1190.8" cy="242.6" r="3.6"/>
<circle class="o" cx="1190.8" cy="242.6" r="2"/>
<circle class="n w" cx="1270.5" cy="242.6" r="3.6"/>
<circle class="o" cx="1270.5" cy="242.6" r="2"/>
<circle class="n w" cx="1190.8" cy="298.7" r="3.6"/>
<circle class="o" cx="1190.8" cy="298.7" r="2"/>
<circle class="n w" cx="1270.5" cy="298.7" r="3.6"/>
<circle class="o" cx="1270.5" cy="298.7" r="2"/>
<circle class="n" cx="1184.8" cy="254.3" r="2.6"/>
<circle class="n" cx="1184.8" cy="254.3" r="1.1"/>
<circle class="n" cx="1276.2" cy="254.3" r="2.6"/>
<circle class="n" cx="1276.2" cy="254.3" r="1.1"/>
<rect class="o" x="1212" y="226" width="37" height="11.5" rx="1.5"/>
<rect class="n" x="1214.5" y="228.5" width="10" height="7"/>
<rect class="th" x="1217.5" y="230.5" width="5" height="3"/>
<rect class="n" x="1227.5" y="228.5" width="19" height="7"/>
<path class="th" d="M1231.5 229.5L1231.5 234.5"/>
<path class="th" d="M1234.5 229.5L1234.5 234.5"/>
<path class="th" d="M1237.5 229.5L1237.5 234.5"/>
<path class="th" d="M1240.5 229.5L1240.5 234.5"/>
<path class="th" d="M1243.5 229.5L1243.5 234.5"/>
<path class="k" d="M1229 232L1245 232"/>
<rect class="o" x="1198" y="246" width="10.5" height="15.5" rx="1.5"/>
<rect class="n" x="1200.5" y="249.5" width="5" height="9"/>
<path class="th" d="M1204.5 250.7L1204.5 256.9"/>
<rect class="o" x="1198" y="268.5" width="10.5" height="17" rx="1.5"/>
<rect class="n" x="1200.5" y="271.5" width="5" height="11"/>
<path class="th" d="M1204.5 272.9L1204.5 281.2"/>
<rect class="o" x="1254.5" y="246" width="10" height="18" rx="1.5"/>
<rect class="n" x="1257.5" y="249.5" width="5" height="12"/>
<path class="th" d="M1261.5 250.7L1261.5 259.5"/>
<circle class="n" cx="1230.5" cy="317.5" r="3"/>
<circle class="a" cx="1230.5" cy="317.5" r="1.4"/>
<g>
<path class="n w" d="M1251.7 164.4L1230.2 164.4Q1227.7 164.4 1227.5 167L1226.6 177.2L1230.2 177.2L1230.6 168L1232.6 167.6"/>
<rect class="o w" x="1232.5" y="165" width="19" height="17.5"/>
<path class="k" d="M1232.6 165L1251.7 165"/>
<rect class="n w" x="1252.5" y="169.5" width="6" height="6"/>
<circle class="n" cx="1255.6" cy="172.4" r="1.5"/>
<rect class="n" x="1232.5" y="177.5" width="3" height="5"/>
<rect class="n w" x="1251.5" y="178.5" width="9" height="4"/>
<path class="k" d="M1232.6 183L1261.5 183"/>
<path class="n" d="M1199.4 182.7L1232.6 183.6"/>
</g>
<path class="n w" d="M1144.5 206.5L1152.2 194.5Q1155 191.3 1159.5 192.6Q1167.5 195.5 1168.8 203.5L1168.8 208.4L1152.4 197.6L1147.5 211Z"/>
<path class="th" d="M1152.4 197.6Q1162 198 1165.5 206.2"/>
<circle class="n" cx="1156" cy="203.7" r="2.3"/>
<circle class="th" cx="1156" cy="203.7" r="1"/>
<circle class="th" cx="1158" cy="189.5" r="1.3"/>
<path class="n w" d="M1304 324Q1312 319.5 1317.5 326.5Q1321.5 333 1318 341L1312 341.5Q1314 332 1308.5 329.5Q1305 329 1303.5 331.5Z"/>
<circle class="n" cx="1308.3" cy="334.4" r="2.2"/>
<circle class="th" cx="1308.3" cy="334.4" r="1"/>
<path class="n w" d="M1300.4 184.7L1305.1 178.9L1327.6 203L1321.4 207.3Z"/>
<path class="th" d="M1317.4 201.9L1323.2 197.2"/>
<path class="th" d="M1318.8 203.7L1324.8 199.2"/>
<path class="th" d="M1320.2 205.6L1326.2 201.2"/>
<circle class="n" cx="1306.1" cy="184.7" r="2.4"/>
<circle class="th" cx="1306.1" cy="184.7" r="1"/>
<path class="n w" d="M1308.3 227L1314.5 224.8L1317.8 234.2L1311.5 236.5Z"/>
<path class="n w" d="M1316 226.8L1326.3 223L1329 230.5L1318.6 234.2Z"/>
<circle class="n" cx="1321.3" cy="228.2" r="2.4"/>
<circle class="th" cx="1321.3" cy="228.2" r="1.1"/>
<path class="n w" d="M1314.1 236.3L1327.8 231L1334.6 249.6L1320.6 254.8Z"/>
<path class="n" d="M1329.6 230.6L1336.8 250.3L1334.6 251"/>
<path class="n w" d="M1324.8 253.4L1334.3 250L1335.8 254.3L1326.4 257.6Z"/>
<path class="th" d="M1326.8 254.6L1333 252.4"/>
<path class="n" d="M1306.5 221.5L1308.3 227"/>
<path class="n" d="M1258.2 375.9L1260.5 384.6"/>
<path class="n" d="M1254.9 376.7L1256.9 385.5"/>
<path class="n" d="M1277 369L1280.9 377.1"/>
<path class="n" d="M1274.6 370.1L1278.3 378.3"/>
<path class="n" d="M1312.1 355.5A117.5 117.5 0 0 1 1256.9 385.5"/>
<path class="th" d="M1310.4 353.7A115 115 0 0 1 1279.8 374.9"/>
<circle class="n" cx="1251.1" cy="382.3" r="2.3"/>
<circle class="a" cx="1251.1" cy="382.3" r="1"/>
<path class="n" d="M1314.1 342.4L1321.7 348.9L1314.6 356.6L1307.6 349.5Z"/>
<path class="n w" d="M1105.5 299.5L1121 294L1127 312.5L1112 318Z"/>
<path class="th" d="M1109 301.5L1115.5 299.2L1121 314.5L1114.5 316.8Z"/>
<path class="th" d="M1117.5 298L1124 295.8"/>
<path class="th" d="M1118.6 301.3L1125.1 299.1"/>
<path class="th" d="M1119.7 304.6L1126.2 302.4"/>
<path class="th" d="M1120.8 307.9L1127.3 305.7"/>
<path class="th" d="M1121.9 311.2L1128.4 309"/>
<circle class="a" cx="1144.3" cy="234.3" r="1.2"/>
<circle class="a" cx="1143" cy="240.2" r="1.2"/>
<circle class="th" cx="1157.5" cy="263.5" r="1.3"/>
<circle class="th" cx="1160.8" cy="294" r="1.3"/>
<circle class="th" cx="1303.5" cy="263.2" r="1.3"/>
<circle class="th" cx="1300.4" cy="293.9" r="1.3"/>
<circle class="th" cx="1215.1" cy="199.3" r="1.3"/>
<circle class="th" cx="1245.7" cy="199.6" r="1.3"/>
<circle class="th" cx="1211" cy="342" r="1.3"/>
<circle class="th" cx="1250" cy="342" r="1.3"/>
<path class="n" d="M1139.5 337L1130.8 352Q1127 360 1134 368L1150 383Q1160 392 1176 395L1196 400L1206 381.5"/>
<path class="tt w" d="M1165.2 365L1163.1 366.3L1164.9 368L1162.6 368.8L1164 370.9L1161.5 371.2L1162.4 373.5L1160 373.3L1160.4 375.7L1158.1 375L1158 377.5L1155.8 376.3L1155.2 378.7L1153.4 377.1L1152.3 379.3L1150.8 377.4L1149.3 379.3L1148.2 377.1L1146.4 378.7L1145.8 376.3L1143.6 377.5L1143.5 375L1141.2 375.7L1141.6 373.3L1139.2 373.5L1140.1 371.2L1137.6 370.9L1139 368.8L1136.7 368L1138.5 366.3L1136.4 365L1138.5 363.7L1136.7 362L1139 361.2L1137.6 359.1L1140.1 358.8L1139.2 356.5L1141.6 356.7L1141.2 354.3L1143.5 355L1143.6 352.5L1145.8 353.7L1146.4 351.3L1148.2 352.9L1149.3 350.7L1150.8 352.6L1152.3 350.7L1153.4 352.9L1155.2 351.3L1155.8 353.7L1158 352.5L1158.1 355L1160.4 354.3L1160 356.7L1162.4 356.5L1161.5 358.8L1164 359.1L1162.6 361.2L1164.9 362L1163.1 363.7Z"/>
<circle class="n" cx="1150.8" cy="365" r="2.6"/>
<path class="n" d="M1133.5 366Q1150 383 1163 380Q1172 386 1180 396"/>
<path class="tt w" d="M1195.9 381.5L1194.1 382.6L1195.5 384.2L1193.5 384.9L1194.5 386.8L1192.4 386.9L1192.8 388.9L1190.8 388.5L1190.7 390.6L1188.8 389.6L1188.1 391.6L1186.5 390.2L1185.4 392L1184.3 390.2L1182.7 391.6L1182 389.6L1180.2 390.6L1180 388.5L1178 388.9L1178.4 386.9L1176.3 386.8L1177.3 384.9L1175.3 384.2L1176.7 382.6L1174.9 381.5L1176.7 380.4L1175.3 378.8L1177.3 378.1L1176.3 376.2L1178.4 376.1L1178 374.1L1180 374.5L1180.2 372.4L1182 373.4L1182.7 371.4L1184.3 372.8L1185.4 371L1186.5 372.8L1188.1 371.4L1188.8 373.4L1190.7 372.4L1190.8 374.5L1192.8 374.1L1192.4 376.1L1194.5 376.2L1193.5 378.1L1195.5 378.8L1194.1 380.4Z"/>
<circle class="n" cx="1185.4" cy="381.5" r="7"/>
<circle class="n" cx="1185.4" cy="381.5" r="3.3"/>
<path class="n w" d="M1203.5 373L1217.5 379.5L1207.5 401L1196.5 396Z"/>
<path class="n" d="M1206 379.5L1213.5 383L1209 392.5L1201.5 389Z"/>
<circle class="n" cx="1210.3" cy="385.8" r="2.2"/>
<circle class="a" cx="1210.3" cy="385.8" r="0.9"/>
<circle class="n" cx="1202.5" cy="397.2" r="2.4"/>
<circle class="a" cx="1202.5" cy="397.2" r="1"/>
<path class="n" d="M1186.5 101.1L1186.5 239"/>
<path class="n" d="M1274.5 101.1L1274.5 239"/>
<path class="n" d="M1186.3 112.5L1274.4 112.5"/>
<path class="a" d="M1186.3 112.1L1203.5 109.3L1203.5 114.9Z"/>
<path class="a" d="M1230.5 112.1L1213.3 114.9L1213.3 109.3Z"/>
<path class="a" d="M1230.5 112.1L1247.7 109.3L1247.7 114.9Z"/>
<path class="a" d="M1274.4 112.1L1257.2 114.9L1257.2 109.3Z"/>
<text class="t" x="1200.3" y="108.7" font-size="15.4" textLength="16.4" lengthAdjust="spacingAndGlyphs">24</text>
<text class="t" x="1244.1" y="108.7" font-size="15.4" textLength="16.5" lengthAdjust="spacingAndGlyphs">24</text>
<path class="n" d="M1063.5 223.5L1203 223.5"/>
<path class="n" d="M1063.5 271.5L1187 271.5"/>
<path class="n" d="M1063.5 306.5L1192 306.5"/>
<path class="n" d="M1074.5 223L1074.5 306.6"/>
<path class="a" d="M1074.8 223L1077.8 240L1071.8 240Z"/>
<path class="a" d="M1074.8 271L1071.8 254L1077.8 254Z"/>
<path class="a" d="M1074.8 271L1077.8 288L1071.8 288Z"/>
<path class="a" d="M1074.8 306.6L1071.8 289.6L1077.8 289.6Z"/>
<text class="t" x="1072" y="254.4" font-size="16.4" textLength="15.9" lengthAdjust="spacingAndGlyphs" transform="rotate(-90 1072 254.4)">27</text>
<text class="t" x="1072" y="301.9" font-size="16.4" textLength="27.2" lengthAdjust="spacingAndGlyphs" transform="rotate(-90 1072 301.9)">19.3</text>
<path class="n" d="M1400.5 250L1400.5 305.3"/>
<path class="a" d="M1400.4 218.7L1406.7 253.5L1394.1 253.5Z"/>
<text class="t" x="1416.3" y="294.9" font-size="19.6" textLength="25.9" lengthAdjust="spacingAndGlyphs">UP</text>
</g>
</svg>
</body></html>
